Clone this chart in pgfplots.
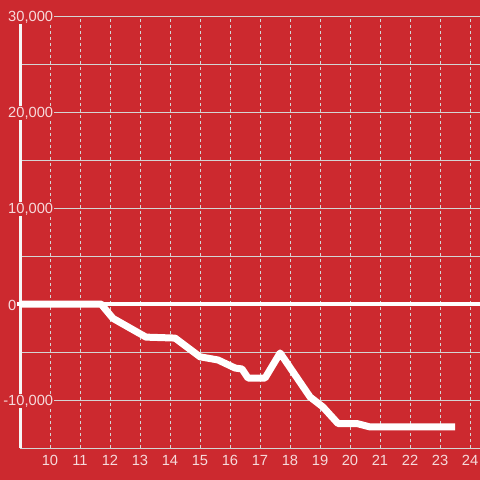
\documentclass[border=0pt]{standalone}
\usepackage{pgfplots}
\pgfplotsset{compat=1.18}
\usepackage{fontspec}
\setmainfont{Liberation Sans}
\definecolor{bgred}{RGB}{204,41,47}
\definecolor{gridc}{RGB}{212,212,212}
\definecolor{labc}{RGB}{246,218,219}
\begin{document}
\begin{tikzpicture}
\begin{axis}[
  at={(20pt,32pt)}, anchor=south west, scale only axis,
  width=460pt, height=432pt,
  xmin=9, xmax=24.3333, ymin=-15000, ymax=30000,
  axis line style={draw=none},
  set layers, clip=false,
  xtick={10,...,24},
  ytick={-10000,0,10000,20000,30000},
  yticklabels={{\llap{-}10,000},{0},{10,000},{20,000},{30,000}},
  minor ytick={-15000,-5000,5000,15000,25000},
  grid=both,
  x grid style={gridc, dash pattern=on 3pt off 3pt, line width=0.9pt},
  y grid style={gridc, solid, line width=0.9pt},
  major tick length=0pt, minor tick length=0pt,
  tick style={draw=none},
  scaled y ticks=false,
  /pgf/number format/assume math mode=true,
  tick label style={font=\fontsize{14.7}{17}\selectfont, text=labc},
  xticklabel style={anchor=north, yshift=-3.5pt},
  yticklabel style={anchor=west, xshift=-13pt, yshift=-1.2pt, fill=bgred, inner sep=1pt},
]
\begin{pgfonlayer}{axis background}
\fill[bgred] (rel axis cs:-0.04348,-0.074074) rectangle (rel axis cs:1,1.037037);
\end{pgfonlayer}
\addplot[white!93!gray, line width=3pt, on layer=axis lines] coordinates {(9.017,29170) (9.017,-15000)};
\addplot[white, line width=4pt, on layer=axis lines] coordinates {(8.9,0) (24.3333,0)};
\addplot[white, line width=7pt, line join=round] coordinates {
(9,0) (11.7,0) (12.1,-1500) (13.2,-3450) (14.17,-3550) (15,-5500)
(15.6,-5830) (16.17,-6670) (16.4,-6770) (16.6,-7710) (17.17,-7710)
(17.67,-5100) (18.67,-9690) (19.1,-10730) (19.6,-12450) (20.23,-12450)
(20.67,-12810) (23.5,-12810)
};
\end{axis}
\pgfresetboundingbox
\path[use as bounding box] (0,0) rectangle (480pt,480pt);
\end{tikzpicture}
\end{document}
